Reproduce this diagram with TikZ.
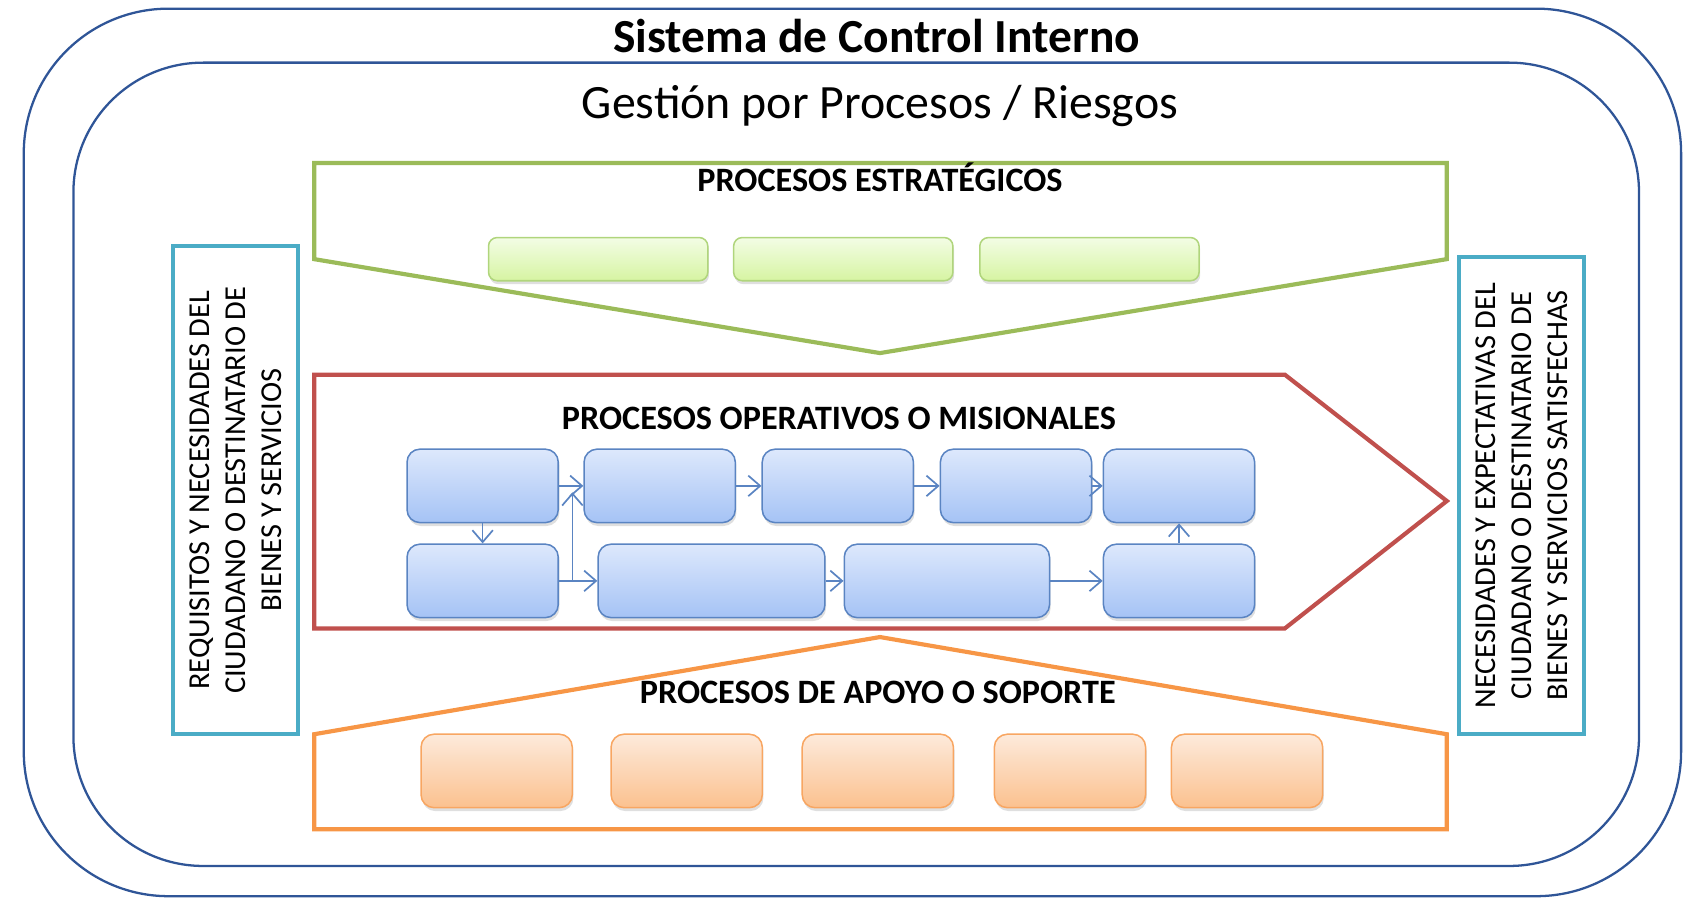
\documentclass[tikz,border=0pt]{standalone}
\usepackage{fontspec}
\setmainfont{Carlito}
\usetikzlibrary{arrows.meta,shadows}

\definecolor{frameblue}{HTML}{2F5597}
\definecolor{stratgreen}{HTML}{9BBB59}
\definecolor{opred}{HTML}{C0504D}
\definecolor{suporange}{HTML}{F79646}
\definecolor{sideaqua}{HTML}{4BACC6}
\definecolor{flowblue}{HTML}{5A84C2}
\definecolor{optop}{HTML}{DDE8FC}
\definecolor{opbot}{HTML}{A5C3F5}
\definecolor{strattop}{HTML}{F3FDE5}
\definecolor{stratbot}{HTML}{D6F4A2}
\definecolor{stratline}{HTML}{B0D57C}
\definecolor{suptop}{HTML}{FDEADB}
\definecolor{supbot}{HTML}{FBC18F}

\begin{document}
\begin{tikzpicture}
        [   x=0.01cm, y=-0.01cm,
            Frame/.style=
            {draw=frameblue, line width=0.6pt},
            TitleText/.style=
            {anchor=base, inner sep=0pt, font=\fontsize{12.5}{15}\selectfont\bfseries},
            SubText/.style=
            {anchor=base, inner sep=0pt, font=\fontsize{12.6}{15}\selectfont},
            HeadText/.style=
            {anchor=base, inner sep=0pt, font=\fontsize{9}{11}\selectfont\bfseries},
            StratBox/.style=
            {rectangle, rounded corners=0.08cm, draw=stratline,
            top color=strattop, bottom color=stratbot,
            line width=0.4pt, minimum width=2.03cm, minimum height=0.4cm,
            drop shadow={shadow xshift=0.3pt, shadow yshift=-0.9pt, opacity=0.25}},
            OpBox/.style=
            {rectangle, rounded corners=0.12cm, draw=flowblue,
            top color=optop, bottom color=opbot,
            line width=0.4pt, minimum width=1.4cm, minimum height=0.68cm,
            drop shadow={shadow xshift=0.3pt, shadow yshift=-0.9pt, opacity=0.25}},
            SupBox/.style=
            {rectangle, rounded corners=0.12cm, draw=suporange!85!white,
            top color=suptop, bottom color=supbot,
            line width=0.4pt, minimum width=1.4cm, minimum height=0.68cm,
            drop shadow={shadow xshift=0.3pt, shadow yshift=-0.9pt, opacity=0.25}},
            SideBox/.style=
            {rectangle, draw=sideaqua, line width=1.1pt, rotate=90,
            minimum height=1.16cm, align=center, inner sep=0pt,
            font=\fontsize{8}{9.5}\selectfont},
            Flow/.style=
            {draw=flowblue, line width=0.45pt,
            -{Straight Barb[length=1.1mm, width=1.9mm]}}
        ]
            \useasboundingbox (0,0) rectangle (1568,832);

            \draw[Frame, rounded corners=1.34cm] (22,8) rectangle (1557,830);
            \draw[Frame, rounded corners=1.2cm] (68,58) rectangle (1518,802);
            \node[TitleText] (title) at (812,49) {Sistema de Control Interno};
            \node[SubText] (subtitle) at (815,110) {Gestión por Procesos / Riesgos};

            \draw[stratgreen, line width=1.1pt]
                (291,151) -- (1340,151) -- (1340,240) -- (815,327) -- (291,240) -- cycle;
            \draw[opred, line width=1.1pt]
                (291,347) -- (1190,347) -- (1340,464) -- (1190,582) -- (291,582) -- cycle;
            \draw[suporange, line width=1.1pt]
                (291,768) -- (291,680) -- (815,590) -- (1340,680) -- (1340,768) -- cycle;

            \node[HeadText] (hstrat) at (815,177) {PROCESOS ESTRATÉGICOS};
            \node[HeadText] (hop) at (777,398) {PROCESOS OPERATIVOS O MISIONALES};
            \node[HeadText] (hsup) at (813,652) {PROCESOS DE APOYO O SOPORTE};

            \foreach \x [count=\i] in {554, 781, 1009}
                \node[StratBox] (e\i) at (\x,240) {};

            \foreach \x [count=\i] in {447, 611, 776, 941, 1092}
                \node[OpBox] (b\i) at (\x,450) {};
            \node[OpBox] (r1) at (447,538) {};
            \node[OpBox, minimum width=2.1cm] (r2) at (659,538) {};
            \node[OpBox, minimum width=1.9cm] (r3) at (877,538) {};
            \node[OpBox] (r4) at (1092,538) {};

            \foreach \x [count=\i] in {460, 636, 813, 991, 1155}
                \node[SupBox] (s\i) at (\x,714) {};

            \draw[Flow] (b1) -- (b2);
            \draw[Flow] (b2) -- (b3);
            \draw[Flow] (b3) -- (b4);
            \draw[Flow] (b4) -- (b5);
            \draw[Flow] (b1) -- (r1);
            \draw[Flow] (r1) -- (r2);
            \draw[Flow] (r2) -- (r3);
            \draw[Flow] (r3) -- (r4);
            \draw[Flow] (r4) -- (b5);
            \path (r1.east) -- (r2.west) coordinate[pos=0.35] (jn);
            \coordinate (jt) at (jn |- b2.west);
            \draw[Flow] (jn) -- ([yshift=-1.7pt]jt);

            \node[SideBox, minimum width=4.52cm] (req) at (218,454)
                {REQUISITOS Y NECESIDADES DEL\\CIUDADANO O DESTINATARIO DE\\BIENES Y SERVICIOS};
            \node[SideBox, minimum width=4.42cm] (sat) at (1409,459)
                {NECESIDADES Y EXPECTATIVAS DEL\\CIUDADANO O DESTINATARIO DE\\BIENES Y SERVICIOS SATISFECHAS};
    \end{tikzpicture}
\end{document}
